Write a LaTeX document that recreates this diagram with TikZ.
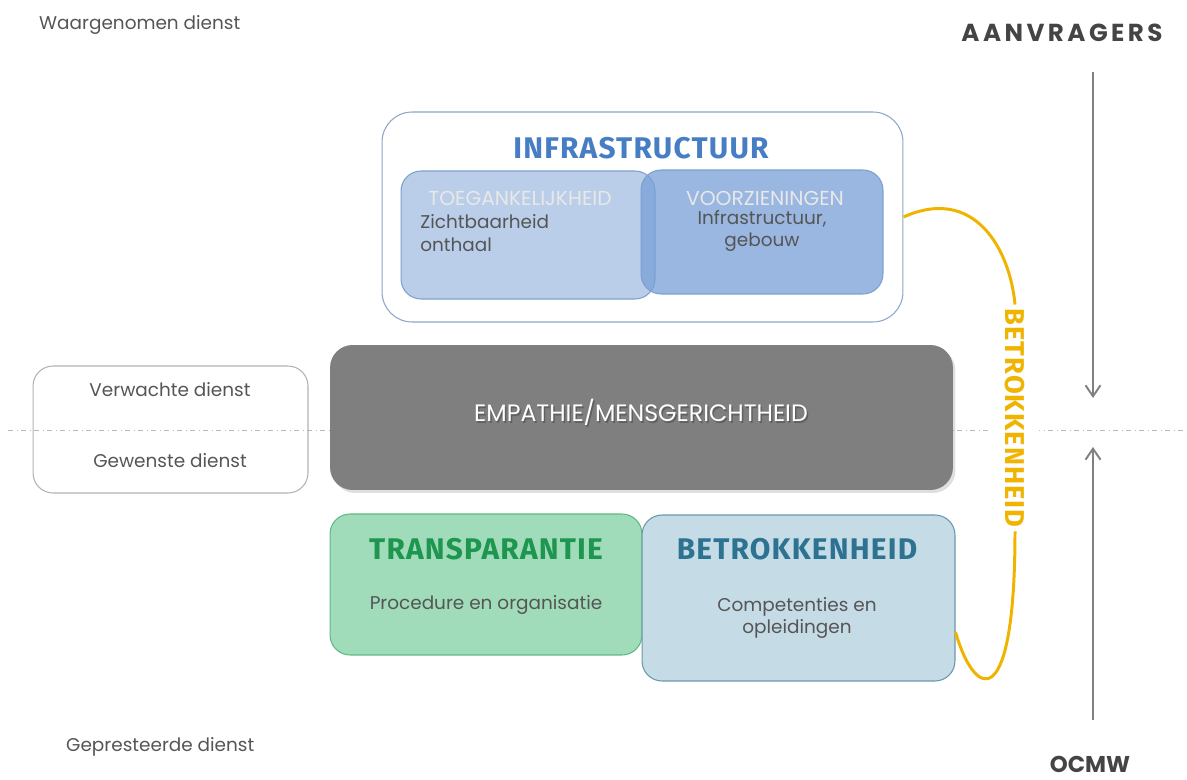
\documentclass[tikz,border=0pt]{standalone}
\usepackage{fontspec}
\setmainfont{Poppins}
\newfontfamily\headfont{Fira Sans}[LetterSpace=4]
\newfontfamily\spacedfont{Poppins}[LetterSpace=14]
\usetikzlibrary{arrows.meta,shadows}

\definecolor{txtgray}{RGB}{85,85,85}
\definecolor{arrowgray}{RGB}{128,128,128}
\definecolor{infrablue}{RGB}{70,125,195}
\definecolor{infraline}{RGB}{140,165,200}
\definecolor{toegfill}{RGB}{186,206,234}
\definecolor{toegline}{RGB}{125,160,205}
\definecolor{voorzfill}{RGB}{120,160,215}
\definecolor{empgray}{RGB}{127,127,127}
\definecolor{transfill}{RGB}{160,220,185}
\definecolor{transline}{RGB}{95,185,130}
\definecolor{transgreen}{RGB}{30,150,80}
\definecolor{betrfill}{RGB}{197,220,230}
\definecolor{betrline}{RGB}{105,150,170}
\definecolor{betrteal}{RGB}{45,115,145}
\definecolor{goldline}{RGB}{240,180,0}

\tikzset{
  box/.style={rectangle, rounded corners=0.4cm, line width=0.6pt, inner sep=0pt},
  body/.style={text=txtgray, font=\fontsize{10.5}{13}\selectfont},
  title/.style={font=\headfont\bfseries\fontsize{17}{17}\selectfont},
  ghost/.style={text=white!82!gray, font=\fontsize{11.5}{12}\selectfont},
  flow/.style={draw=arrowgray, line width=1.1pt, -{Straight Barb[length=2.2mm,width=3mm]}},
}

\begin{document}
\begin{tikzpicture}[x=0.02cm, y=-0.02cm]
  \useasboundingbox (0,0) rectangle (1187,780);

  % scheidingslijn verwacht / gepresteerd
  \draw[gray!55, dash dot, line width=0.4pt] (8,430) -- (1187,430);

  % linker kader
  \node[box, draw=gray!60, minimum width=5.5cm, minimum height=2.54cm] (dienst) at (170.5,429.5) {};
  \node[body] (verw) at (170,390) {Verwachte dienst};
  \node[body] (gew) at (170,461) {Gewenste dienst};

  % infrastructuur
  \node[box, draw=infraline, fill=white, rounded corners=0.6cm, minimum width=10.42cm, minimum height=4.2cm] (infra) at (642.5,217) {};
  \node[title, text=infrablue] (infratitle) at (641,148) {INFRASTRUCTUUR};
  \node[box, draw=toegline, fill=toegfill, minimum width=5.08cm, minimum height=2.56cm] (toeg) at (528,235) {};
  \node[box, draw=toegline, fill=voorzfill, fill opacity=0.75, text opacity=1, minimum width=4.84cm, minimum height=2.48cm] (voorz) at (762,232) {};
  \node[ghost] (toegtitle) at (520,198) {TOEGANKELIJKHEID};
  \node[body, anchor=north west, align=left, inner sep=0pt] (toegtxt) at (420,214) {Zichtbaarheid\\onthaal};
  \node[ghost] (voorztitle) at (765,198) {VOORZIENINGEN};
  \node[body, align=center, inner sep=0pt] (voorztxt) at (762,231) {Infrastructuur,\\gebouw};

  % empathie
  \node[box, fill=empgray, rounded corners=0.45cm, minimum width=12.46cm, minimum height=2.9cm,
        drop shadow={opacity=0.25, shadow xshift=0.5mm, shadow yshift=-0.6mm}] (emp) at (641.5,417.5) {};
  \node[text=black!70, opacity=0.6, font=\fontsize{13.5}{14}\selectfont] at (642.5,414) {EMPATHIE/MENSGERICHTHEID};
  \node[text=white, font=\fontsize{13.5}{14}\selectfont] (emptxt) at (641,412) {EMPATHIE/MENSGERICHTHEID};

  % transparantie en betrokkenheid
  \node[box, draw=transline, fill=transfill, minimum width=6.24cm, minimum height=2.82cm] (trans) at (486,584.5) {};
  \node[title, text=transgreen] (transtitle) at (486,549) {TRANSPARANTIE};
  \node[body] (transtxt) at (486,605) {Procedure en organisatie};
  \node[box, draw=betrline, fill=betrfill, minimum width=6.26cm, minimum height=3.32cm] (betr) at (798.5,598) {};
  \node[title, text=betrteal] (betrtitle) at (797,549) {BETROKKENHEID};
  \node[body, align=center] (betrtxt) at (797,618) {Competenties en\\opleidingen};

  % gele boog
  \node[fill=white, rotate=-90, inner xsep=2pt, inner ysep=0.28cm, text=goldline,
        font=\headfont\bfseries\fontsize{15.5}{15}\selectfont] (gold) at (1015,418) {BETROKKENHEID};
  \draw[goldline, line width=1.7pt] (infra.east) .. controls (975,185) and (1010,250) .. (gold.west);
  \draw[goldline, line width=1.7pt] (gold.east) .. controls (1015,715) and (975,700) .. ([yshift=-0.68cm]betr.east);

  % aanvragers en ocmw
  \node[text=txtgray!80!black, font=\spacedfont\bfseries\fontsize{14}{14}\selectfont] (aanv) at (1062,33) {AANVRAGERS};
  \node[text=txtgray!80!black, font=\bfseries\fontsize{13}{13}\selectfont] (ocmw) at (1090,764) {OCMW};
  \coordinate (aanvtop) at (1093,72);
  \coordinate (aanvend) at (1093,398);
  \coordinate (ocmwbot) at (1093,720);
  \coordinate (ocmwend) at (1093,447);
  \draw[flow] (aanvtop) -- (aanvend);
  \draw[flow] (ocmwbot) -- (ocmwend);

  \node[body, anchor=west] (waarg) at (33,25) {Waargenomen dienst};
  \node[body, anchor=west] (gepr) at (60,747) {Gepresteerde dienst};
\end{tikzpicture}
\end{document}
